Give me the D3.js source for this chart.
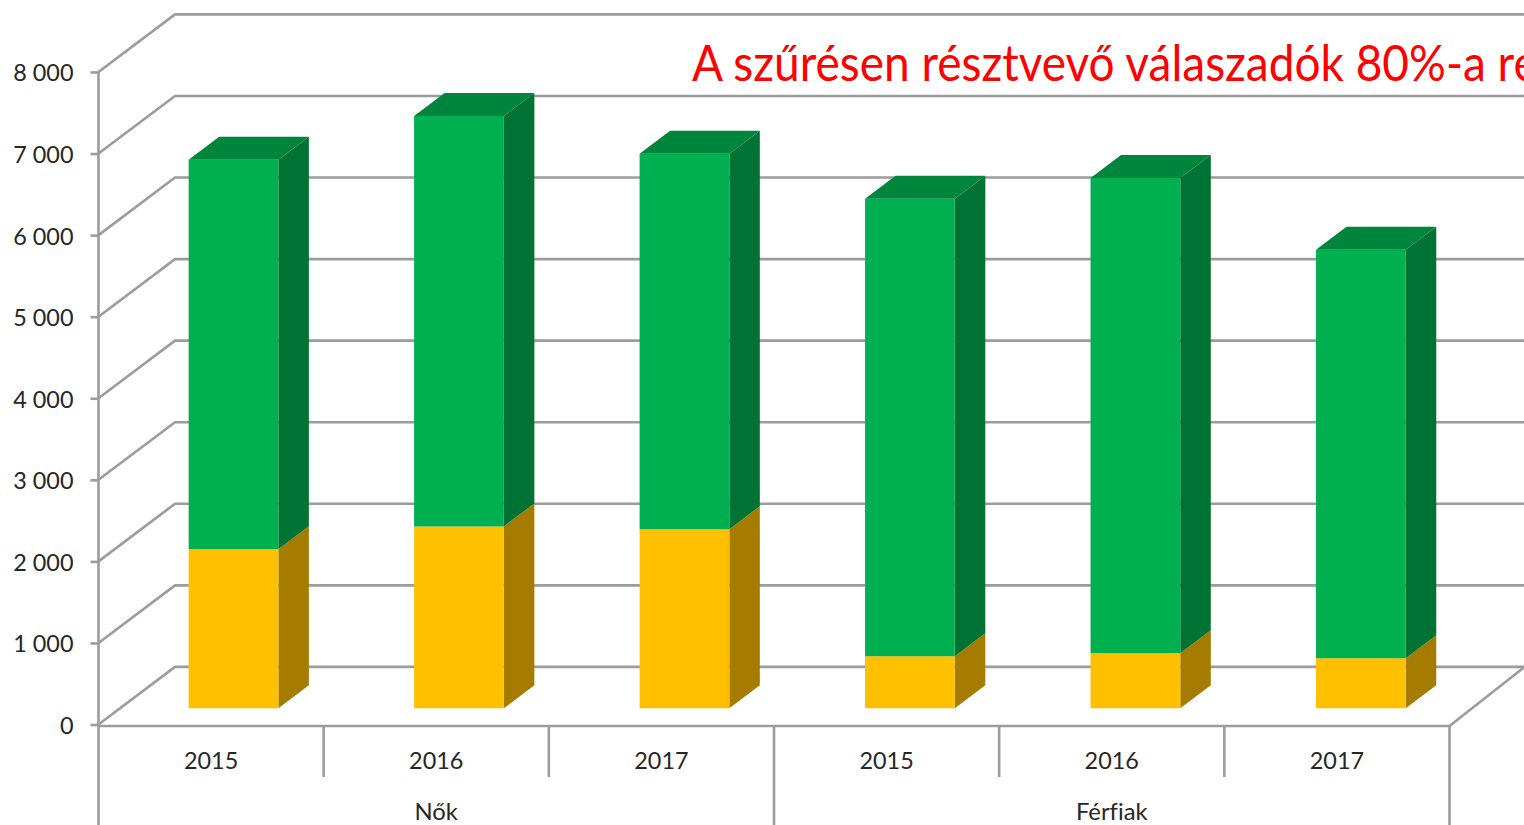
<!DOCTYPE html>
<html><head><meta charset="utf-8">
<script src="https://cdn.jsdelivr.net/npm/d3@7/dist/d3.min.js"></script>
<style>html,body{margin:0;padding:0;background:#fff;overflow:hidden}svg{display:block}text{font-family:Lato,"Open Sans",sans-serif;fill:#262626;font-variant-ligatures:none}</style>
</head><body><svg id="c" width="1524" height="825"></svg>
<script>
const years = ["2015","2016","2017","2015","2016","2017"];
const groups = ["Nők","Férfiak"];
const yellowValues = [1950,2230,2195,637,674,613];
const greenValues = [4774,5033,4603,5609,5829,5008];
const yTicks = [0,1000,2000,3000,4000,5000,6000,7000,8000];
const titleText = "A szűrésen résztvevő válaszadók 80%-a re";

const W=1524,H=825;
const svg=d3.select("#c");
const grid="#9c9c9c";
const sw=2.6;
const y=d3.scaleLinear().domain([0,8000]).range([724.5,72]);
const x=d3.scaleBand().domain(d3.range(years.length)).range([98.8,1451.2]).paddingInner(0.602).paddingOuter(0.3);
const axisLeftX=98.5, axisRightX=1449.5;
const tickStep=(axisRightX-axisLeftX)/years.length;
const wall={dx:76.5,dy:57.6};
const barPlane={dx:22.2,dy:16.2};
const depth={dx:30.5,dy:23};
const line=d3.line();

// gridlines: side wall + back wall
const gridG=svg.append("g").attr("fill","none").attr("stroke",grid).attr("stroke-width",sw);
gridG.selectAll("path").data(yTicks).join("path")
  .attr("d",v=>line([[axisLeftX,y(v)],[axisLeftX+wall.dx,y(v)-wall.dy],[W+2,y(v)-wall.dy]]));
gridG.append("path").attr("d",line([[axisRightX,y(0)+1.5],[1526,y(0)-wall.dy-1]]));

// stacked 3D bars
const stackedRows=years.map((_,i)=>[
  {k:"yellow",v0:0,v1:yellowValues[i]},
  {k:"green",v0:yellowValues[i],v1:yellowValues[i]+greenValues[i]}
]);
const palette={yellow:{front:"#ffc000",side:"#a67c00",top:"#c99a00"},green:{front:"#00b050",side:"#007233",top:"#00853c"}};
const barG=svg.append("g");
stackedRows.forEach((row,i)=>{
  const x0=x(i)+barPlane.dx,x1=x0+x.bandwidth();
  const g=barG.append("g");
  row.forEach((s,si)=>{
    const yb=y(s.v0)-barPlane.dy,yt=y(s.v1)-barPlane.dy,c=palette[s.k];
    g.append("path").attr("fill",c.side).attr("d",line([[x1,yb],[x1+depth.dx,yb-depth.dy],[x1+depth.dx,yt-depth.dy],[x1,yt]])+"Z");
    g.append("path").attr("fill",c.front).attr("d",line([[x0,yb],[x1,yb],[x1,yt],[x0,yt]])+"Z");
    if(si===row.length-1)
      g.append("path").attr("fill",c.top).attr("d",line([[x0,yt],[x1,yt],[x1+depth.dx,yt-depth.dy],[x0+depth.dx,yt-depth.dy]])+"Z");
  });
});

// y axis
const yAxis=d3.axisLeft(y).tickValues(yTicks).tickSize(8).tickPadding(17)
  .tickFormat(d=>d3.format(",")(d).replace(",","\u00a0"));
const ya=svg.append("g").attr("transform",`translate(${axisLeftX},0)`).call(yAxis);
ya.selectAll("line,path").attr("stroke",grid).attr("stroke-width",sw);
ya.select(".domain").attr("d",line([[0,y(8000)],[0,H+2]]));
ya.selectAll("text").attr("font-size",23.4).attr("fill","#262626").attr("font-family","Lato").attr("dy","0.34em").attr("y",1);

// x axis lines
const xa=svg.append("g").attr("stroke",grid).attr("stroke-width",sw).attr("fill","none");
xa.append("path").attr("d",line([[axisLeftX,y(0)+1.5],[axisRightX,y(0)+1.5]]));
d3.range(1,years.length).forEach(i=>{
  const px=axisLeftX+tickStep*i;
  xa.append("path").attr("d",line([[px,y(0)+1.5],[px,i%3===0?H+2:777]]));
});
xa.append("path").attr("d",line([[axisRightX,y(0)+1.5],[axisRightX,H+2]]));

// x labels
svg.append("g").selectAll("text").data(years).join("text")
  .attr("x",(d,i)=>axisLeftX+tickStep*(i+0.5)).attr("y",760.5).attr("dy","0.35em")
  .attr("text-anchor","middle").attr("font-size",23.4).text(d=>d);
svg.append("g").selectAll("text").data(groups).join("text")
  .attr("x",(d,i)=>axisLeftX+tickStep*3*(i+0.5)).attr("y",811.5).attr("dy","0.35em")
  .attr("text-anchor","middle").attr("font-size",23.8).text(d=>d);

// title (cut by the right edge, as in the reference)
svg.append("text").attr("transform","translate(692,81) scale(0.92,1)").attr("font-size",50)
  .style("fill","#ff0000").text(titleText);
</script></body></html>
